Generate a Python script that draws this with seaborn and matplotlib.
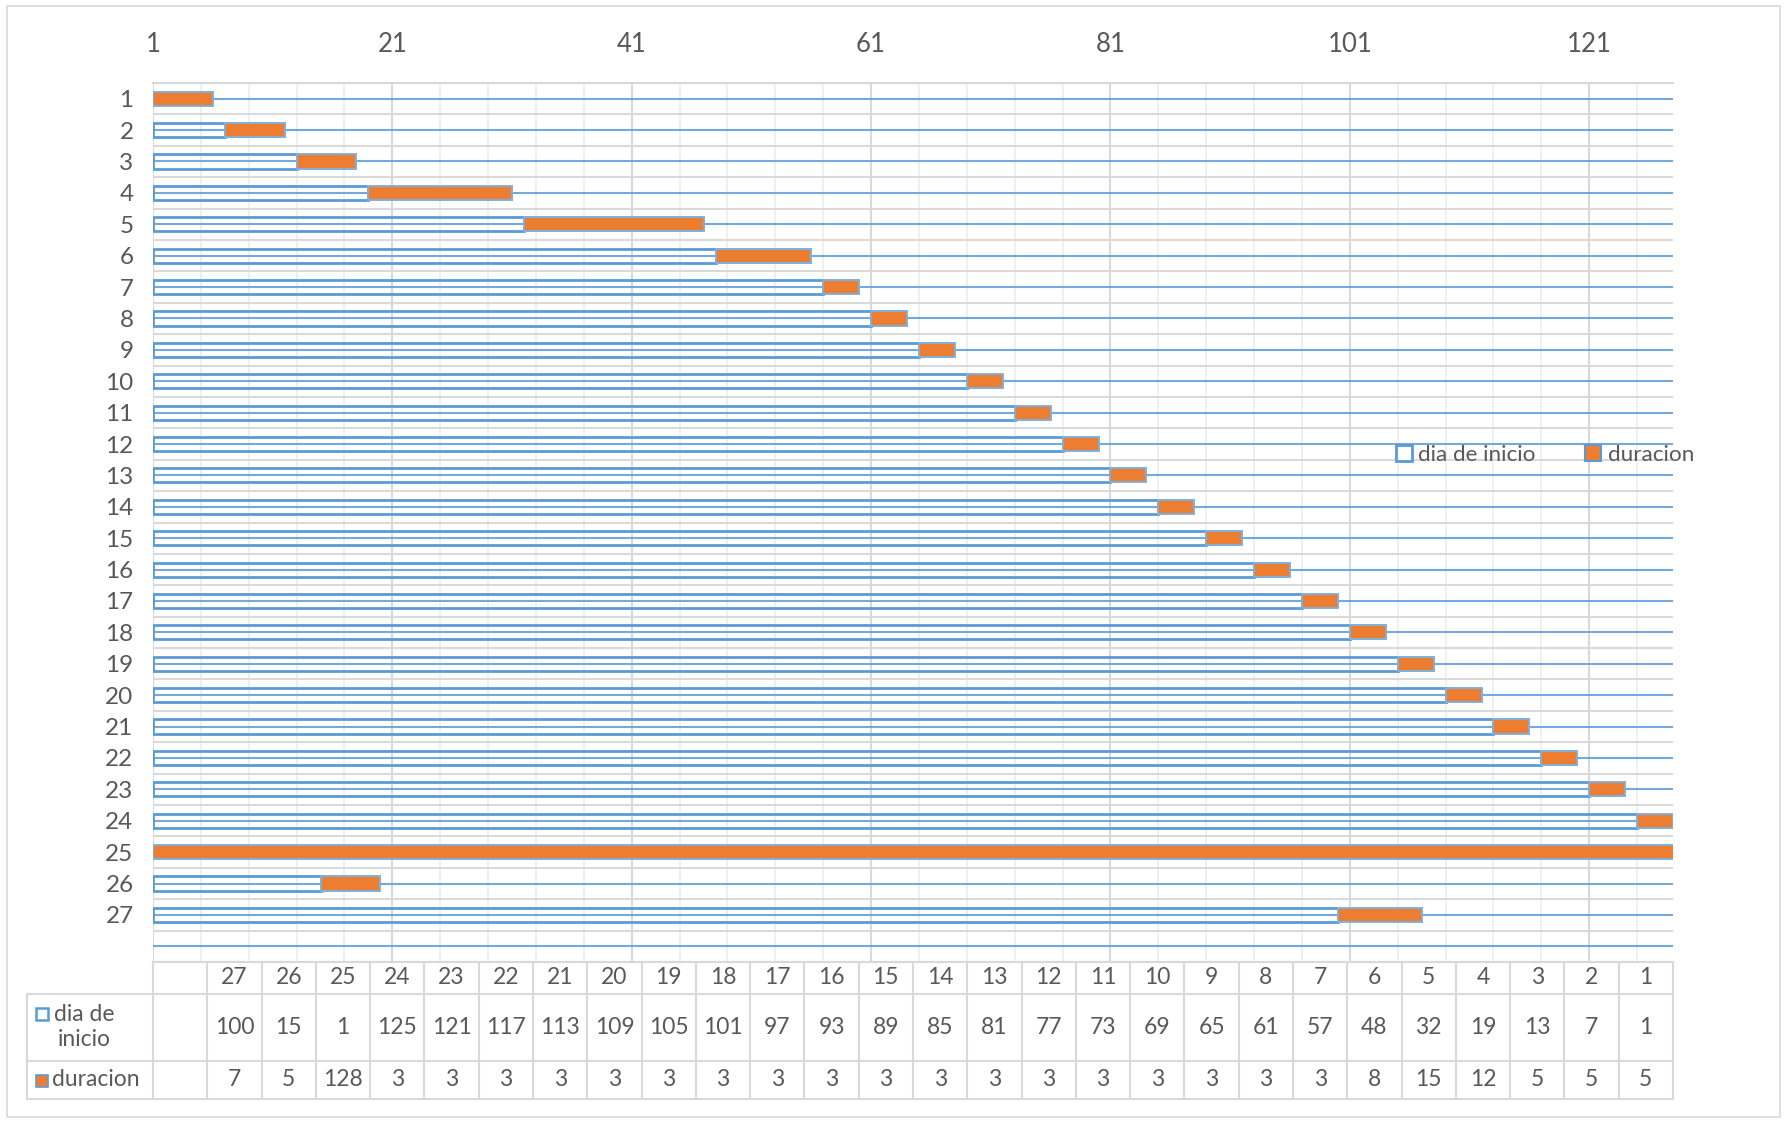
import numpy as np
import pandas as pd
import matplotlib
matplotlib.use("Agg")
import matplotlib.pyplot as plt
from matplotlib.patches import Patch, Rectangle
from matplotlib.lines import Line2D
import seaborn as sns

# ---------------- data ----------------
tareas = [str(i) for i in range(1, 28)]
dia_de_inicio = [1, 7, 13, 19, 32, 48, 57, 61, 65, 69, 73, 77, 81, 85, 89,
                 93, 97, 101, 105, 109, 113, 117, 121, 125, 1, 15, 100]
duracion = [5, 5, 5, 12, 15, 8, 3, 3, 3, 3, 3, 3, 3, 3, 3,
            3, 3, 3, 3, 3, 3, 3, 3, 3, 128, 5, 7]
x_tick_values = [1, 21, 41, 61, 81, 101, 121]
serie_labels = ["dia de inicio", "duracion"]
AXIS_MIN, AXIS_MAX = 1, 128
MINOR_STEP = 4

# ---------------- style ----------------
BLUE = "#5b9bd5"
ORANGE = "#ed7d31"
GRID = "#d9d9d9"
GRID_MINOR = "#efefef"
TEXT = "#595959"

sns.set_theme(style="white")
plt.rcParams["font.family"] = ["Lato", "DejaVu Sans"]

W, H = 1786, 1123
fig = plt.figure(figsize=(W / 100, H / 100), dpi=100)
fig.patch.set_facecolor("white")

def fx(x):
    return x / W

def fy(y):
    return 1 - y / H

# plot area in pixel layout
PL, PR, PT, PB = 153, 1673, 83, 962
ax = fig.add_axes([fx(PL), fy(PB), fx(PR) - fx(PL), fy(PT) - fy(PB)])

df = pd.DataFrame({"tarea": tareas, "inicio": dia_de_inicio, "duracion": duracion})
cats = tareas + [""]            # Excel chart has one extra empty category
pos = np.arange(len(tareas))
slots = np.arange(len(cats))

BAR_H = 0.45
ax.barh(pos, df["inicio"] - AXIS_MIN, left=AXIS_MIN, height=BAR_H,
        facecolor="none", edgecolor=BLUE, linewidth=2.0, zorder=3)
ax.barh(pos, df["duracion"], left=df["inicio"], height=BAR_H,
        facecolor=ORANGE, edgecolor="#7fb0de", linewidth=1.4, zorder=4)

ax.set_xlim(AXIS_MIN, AXIS_MAX)
ax.set_ylim(len(cats) - 0.5, -0.5)

ax.set_xticks(x_tick_values)
ax.set_xticks(np.arange(AXIS_MIN + MINOR_STEP, AXIS_MAX, MINOR_STEP), minor=True)
ax.set_yticks(slots)
ax.set_yticklabels(cats)
ax.set_yticks(slots - 0.5, minor=True)

ax.set_axisbelow(True)
ax.grid(axis="x", which="minor", color=GRID_MINOR, linewidth=1.3, zorder=0)
ax.grid(axis="x", which="major", color=GRID, linewidth=1.5, zorder=0)
ax.grid(axis="y", which="minor", color=GRID, linewidth=1.5, zorder=0)
ax.grid(axis="y", which="major", color=BLUE, linewidth=1.5, alpha=0.85, zorder=1)

ax.xaxis.tick_top()
ax.tick_params(axis="x", which="both", length=0, pad=19, labelsize=18.5,
               labelcolor=TEXT)
ax.tick_params(axis="y", which="both", length=0, pad=14, labelsize=17.5,
               labelcolor=TEXT)
for side in ["left", "right"]:
    ax.spines[side].set_visible(False)
for side in ["top", "bottom"]:
    ax.spines[side].set_color(GRID)
    ax.spines[side].set_linewidth(1.5)

# ---------------- legend ----------------
handles = [Patch(facecolor="white", edgecolor=BLUE, linewidth=2),
           Patch(facecolor=ORANGE, edgecolor=BLUE, linewidth=1.5)]
leg = fig.legend(handles, serie_labels, ncol=2, loc="center",
                 bbox_to_anchor=(fx(1545), fy(455)), frameon=False,
                 fontsize=16.2, handlelength=0.7, handleheight=0.7,
                 handletextpad=0.3, columnspacing=2.2)
for t in leg.get_texts():
    t.set_color(TEXT)

# ---------------- data table ----------------
n_cols = len(cats)
col_w = (PR - PL) / n_cols
col_edges = [PL + i * col_w for i in range(n_cols + 1)]
TL = 27
R0, R1, R2, R3 = PB, 994, 1061, 1099

def hline(y, x0, x1):
    fig.add_artist(Line2D([fx(x0), fx(x1)], [fy(y), fy(y)], color=GRID,
                          linewidth=1.5, transform=fig.transFigure))

def vline(x, y0, y1):
    fig.add_artist(Line2D([fx(x), fx(x)], [fy(y0), fy(y1)], color=GRID,
                          linewidth=1.5, transform=fig.transFigure))

hline(R0, PL, PR)
for y in (R1, R2, R3):
    hline(y, TL, PR)
for x in col_edges:
    vline(x, R0, R3)
vline(TL, R1, R3)

tbl_cats = cats[::-1]
tbl_inicio = [""] + [str(v) for v in dia_de_inicio[::-1]]
tbl_dur = [""] + [str(v) for v in duracion[::-1]]
TFS = 16.5
for i in range(n_cols):
    cx = (col_edges[i] + col_edges[i + 1]) / 2
    fig.text(fx(cx), fy((R0 + R1) / 2), tbl_cats[i], ha="center", va="center",
             fontsize=TFS, color=TEXT)
    fig.text(fx(cx), fy((R1 + R2) / 2), tbl_inicio[i], ha="center", va="center",
             fontsize=TFS, color=TEXT)
    fig.text(fx(cx), fy((R2 + R3) / 2), tbl_dur[i], ha="center", va="center",
             fontsize=TFS, color=TEXT)

SQ = 12
fig.add_artist(Rectangle((fx(36), fy(1020)), SQ / W, SQ / H, facecolor="white",
                         edgecolor=BLUE, linewidth=1.8, transform=fig.transFigure))
fig.text(fx(84), fy(1027), "dia de\ninicio", ha="center", va="center",
         fontsize=TFS, color=TEXT, linespacing=1.2)
fig.add_artist(Rectangle((fx(36), fy(1087)), SQ / W, SQ / H, facecolor=ORANGE,
                         edgecolor=BLUE, linewidth=1.2, transform=fig.transFigure))
fig.text(fx(52), fy(1080), "duracion", ha="left", va="center",
         fontsize=TFS, color=TEXT)

# chart border
fig.add_artist(Rectangle((fx(7), fy(1117)), (1780 - 7) / W, (1117 - 6) / H,
                         fill=False, edgecolor=GRID, linewidth=1.2,
                         transform=fig.transFigure))

fig.savefig("out.png", dpi=100, facecolor="white")
